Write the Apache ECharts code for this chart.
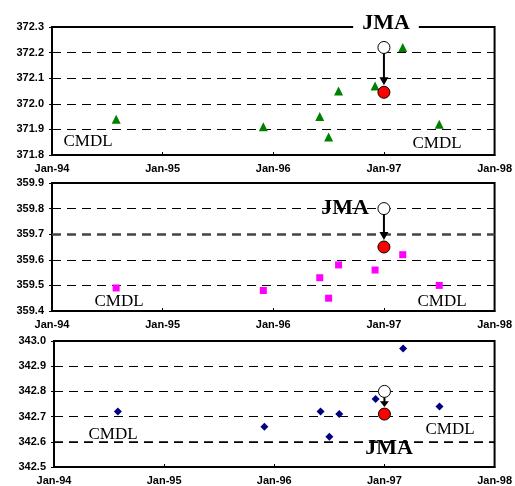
<!DOCTYPE html>
<html>
<head>
<meta charset="utf-8">
<script src="https://cdn.jsdelivr.net/npm/echarts@6/dist/echarts.min.js"></script>
<style>
  html, body { margin: 0; padding: 0; background: #fff; }
  #main { width: 515px; height: 486px; }
</style>
</head>
<body>
<div id="main"></div>
<script>
// sample times in decimal years (shared by all three panels)
const cmdlTimes = [1994.58, 1995.91, 1996.42, 1996.50, 1996.59, 1996.92, 1997.17, 1997.50];
const panel1Cmdl = [371.94, 371.91, 371.95, 371.87, 372.05, 372.07, 372.22, 371.92];
const panel2Cmdl = [359.49, 359.48, 359.53, 359.45, 359.58, 359.56, 359.62, 359.50];
const panel3Cmdl = [342.72, 342.66, 342.72, 342.62, 342.71, 342.77, 342.97, 342.74];

// JMA value before (open circle) and after (red circle) the correction
const jmaTime = 1997.0;
const jmaBefore = [372.22, 359.80, 342.80];
const jmaAfter = [372.045, 359.65, 342.71];

const yRanges = [[371.8, 372.3], [359.4, 359.9], [342.5, 343.0]];
const xTicks = [1994, 1995, 1996, 1997, 1998];

const cmdlSets = [panel1Cmdl, panel2Cmdl, panel3Cmdl];
const cmdlSymbols = ['triangle', 'rect', 'diamond'];
const cmdlSizes = [9, 7, 8];
const cmdlColors = ['#008000', '#ff00ff', '#000080'];

const grids = [
    { left: 52, top: 27, width: 445, height: 128 },
    { left: 52, top: 183, width: 446, height: 128 },
    { left: 54, top: 341, width: 447, height: 128 }
];

const boldLabel = { color: '#000', fontFamily: 'Liberation Sans', fontWeight: 'bold', fontSize: 11 };

const xAxes = grids.map((g, i) => ({
    type: 'value', gridIndex: i,
    min: xTicks[0], max: xTicks[xTicks.length - 1], interval: 1,
    axisLine: { show: true, onZero: false, lineStyle: { color: '#000', width: 2 } },
    axisTick: { show: true, inside: true, length: 3, lineStyle: { color: '#000' } },
    splitLine: { show: false },
    axisLabel: Object.assign({ margin: 8, showMinLabel: true, showMaxLabel: true,
        formatter: v => 'Jan-' + String(v).slice(2) }, boldLabel)
}));

const yAxes = grids.map((g, i) => ({
    type: 'value', gridIndex: i,
    min: yRanges[i][0], max: yRanges[i][1], interval: 0.1,
    axisLine: { show: true, lineStyle: { color: '#000', width: 2 } },
    axisTick: { show: true, length: 3, lineStyle: { color: '#000' } },
    splitLine: { show: true, lineStyle: { color: '#000', type: [9, 6], width: 1 } },
    axisLabel: Object.assign({ margin: 8, formatter: v => v.toFixed(1) }, boldLabel)
}));

const series = [];
for (let i = 0; i < 3; i++) {
    series.push({
        type: 'scatter', xAxisIndex: i, yAxisIndex: i,
        symbol: cmdlSymbols[i], symbolSize: cmdlSizes[i],
        itemStyle: { color: cmdlColors[i], opacity: 1 },
        data: cmdlTimes.map((t, k) => [t, cmdlSets[i][k]]),
        z: 3
    });
    series.push({
        type: 'scatter', xAxisIndex: i, yAxisIndex: i,
        symbol: 'circle', symbolSize: 12,
        itemStyle: { color: '#fff', borderColor: '#000', borderWidth: 1, opacity: 1 },
        data: [[jmaTime, jmaBefore[i]]],
        z: 4
    });
    series.push({
        type: 'scatter', xAxisIndex: i, yAxisIndex: i,
        symbol: 'circle', symbolSize: 12,
        itemStyle: { color: '#ff0000', borderColor: '#000', borderWidth: 1, opacity: 1 },
        data: [[jmaTime, jmaAfter[i]]],
        z: 4
    });
}
// heavier dashed line in the middle and bottom panels
series[3].markLine = {
    silent: true, symbol: 'none', label: { show: false },
    lineStyle: { color: '#444', type: [9, 6], width: 2.5 },
    data: [{ yAxis: 359.7 }]
};
series[6].markLine = {
    silent: true, symbol: 'none', label: { show: false },
    lineStyle: { color: '#000', type: [9, 6], width: 1.5 },
    data: [{ yAxis: 342.6 }]
};

const chart = echarts.init(document.getElementById('main'));
chart.setOption({
    animation: false,
    backgroundColor: '#fff',
    grid: grids.map(g => Object.assign({ show: true, borderColor: '#000', borderWidth: 2, backgroundColor: 'transparent' }, g)),
    xAxis: xAxes,
    yAxis: yAxes,
    series: series
});

// annotations and arrows
const serif = 'Liberation Serif, Times New Roman, serif';
const texts = [
    { x: 386, y: 23, t: 'JMA', bold: true, bg: true },
    { x: 88, y: 142, t: 'CMDL' },
    { x: 437, y: 144, t: 'CMDL' },
    { x: 345, y: 208, t: 'JMA', bold: true },
    { x: 119, y: 302, t: 'CMDL' },
    { x: 442, y: 302, t: 'CMDL' },
    { x: 389, y: 448, t: 'JMA', bold: true },
    { x: 113, y: 435, t: 'CMDL' },
    { x: 450, y: 430, t: 'CMDL' }
];
const graphic = texts.map(a => ({
    type: 'text', x: a.x, y: a.y, z: 10,
    style: {
        text: a.t, fill: '#000',
        font: (a.bold ? 'bold 22px ' : '17px ') + serif,
        align: 'center', verticalAlign: 'middle',
        backgroundColor: a.bg ? '#fff' : null,
        padding: a.bg ? [0, 9] : 0
    }
}));
for (let i = 0; i < 3; i++) {
    const p0 = chart.convertToPixel({ gridIndex: i }, [jmaTime, jmaBefore[i]]);
    const p1 = chart.convertToPixel({ gridIndex: i }, [jmaTime, jmaAfter[i]]);
    const y0 = p0[1] + 6, tip = p1[1] - 7, head = Math.min(8, (tip - y0) * 0.6);
    graphic.push({
        type: 'line', z: 10,
        shape: { x1: p0[0], y1: y0, x2: p0[0], y2: tip - head + 1 },
        style: { stroke: '#000', lineWidth: 2 }
    });
    graphic.push({
        type: 'polygon', z: 10,
        shape: { points: [[p0[0] - 4.5, tip - head], [p0[0] + 4.5, tip - head], [p0[0], tip]] },
        style: { fill: '#000' }
    });
}
chart.setOption({ graphic: graphic });
</script>
</body>
</html>
